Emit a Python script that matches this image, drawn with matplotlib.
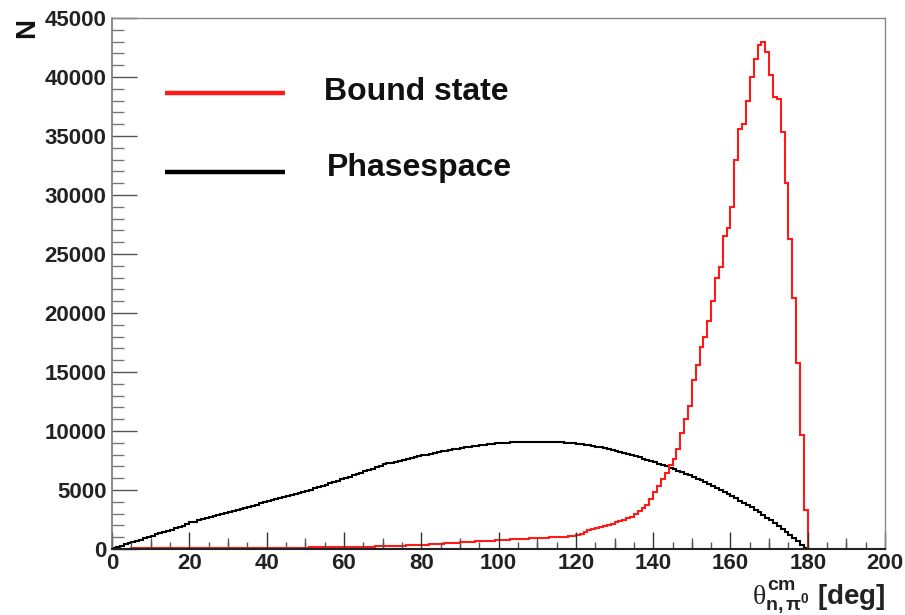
import numpy as np
import matplotlib
matplotlib.use("Agg")
import matplotlib.pyplot as plt
from matplotlib.ticker import MultipleLocator

plt.rcParams['font.family'] = ['Liberation Sans', 'DejaVu Sans']
plt.rcParams['mathtext.fontset'] = 'custom'
plt.rcParams['mathtext.rm'] = 'Liberation Sans:bold'
plt.rcParams['mathtext.bf'] = 'Liberation Sans:bold'
plt.rcParams['mathtext.it'] = 'Liberation Serif'

# bin edges: 1-degree bins from 0 to 180
bin_edges = np.arange(0, 181, 1)

bound_state = [
    30, 30, 40, 40, 40, 50, 50, 50, 50, 50,
    50, 50, 60, 60, 60, 60, 60, 60, 60, 70,
    70, 70, 70, 70, 70, 80, 80, 80, 80, 80,
    80, 80, 90, 90, 90, 90, 90, 90, 100, 100,
    100, 100, 100, 110, 110, 110, 110, 120, 120, 120,
    120, 130, 130, 130, 140, 140, 150, 150, 160, 160,
    170, 170, 180, 180, 190, 190, 200, 210, 220, 230,
    240, 250, 260, 270, 280, 290, 300, 310, 320, 340,
    350, 370, 390, 410, 430, 450, 470, 490, 510, 540,
    560, 580, 610, 630, 650, 670, 690, 700, 720, 740,
    760, 780, 790, 820, 840, 850, 870, 890, 910, 930,
    940, 950, 970, 980, 990, 1000, 1020, 1050, 1080, 1120,
    1200, 1300, 1450, 1600, 1720, 1800, 1850, 1950, 2050, 2150,
    2250, 2350, 2500, 2650, 2750, 2950, 3200, 3450, 3700, 4200,
    4800, 5300, 5900, 6450, 7100, 7600, 8500, 9800, 11000, 12100,
    14300, 15600, 17100, 18000, 19300, 21000, 23000, 23900, 26500, 27200,
    29000, 33000, 35600, 36000, 38000, 40000, 41500, 42700, 43000, 42100,
    40200, 38300, 38100, 35300, 31000, 26300, 21300, 15800, 9700, 3300,
]

phasespace = [
    50, 170, 280, 390, 480, 590, 700, 790, 900, 1010,
    1120, 1230, 1330, 1440, 1560, 1650, 1760, 1870, 1980, 2090,
    2250, 2330, 2420, 2510, 2640, 2700, 2810, 2890, 2980, 3070,
    3150, 3260, 3330, 3420, 3510, 3590, 3680, 3770, 3860, 3960,
    4030, 4120, 4210, 4290, 4400, 4470, 4560, 4640, 4730, 4820,
    4920, 5020, 5130, 5230, 5350, 5460, 5570, 5680, 5790, 5900,
    6000, 6110, 6230, 6340, 6460, 6580, 6700, 6820, 6930, 7050,
    7180, 7330, 7280, 7400, 7480, 7560, 7640, 7700, 7790, 7860,
    7930, 8000, 8060, 8130, 8200, 8270, 8310, 8380, 8440, 8500,
    8560, 8620, 8670, 8720, 8760, 8800, 8840, 8880, 8920, 8950,
    8980, 9000, 9020, 9040, 9050, 9070, 9080, 9090, 9100, 9080,
    9100, 9070, 9090, 9060, 9050, 9040, 9030, 9010, 8990, 8960,
    8930, 8890, 8850, 8800, 8740, 8680, 8620, 8540, 8470, 8390,
    8300, 8220, 8130, 8040, 7960, 7860, 7760, 7660, 7560, 7450,
    7340, 7230, 7110, 7000, 6880, 6760, 6640, 6510, 6380, 6250,
    6100, 5960, 5820, 5670, 5510, 5350, 5180, 5010, 4840, 4660,
    4480, 4300, 4110, 3920, 3720, 3520, 3310, 3100, 2880, 2660,
    2430, 2200, 1960, 1720, 1460, 1200, 930, 650, 370, 100,
]

legend_labels = ["Bound state", "Phasespace"]
x_ticks = [0, 20, 40, 60, 80, 100, 120, 140, 160, 180, 200]
y_ticks = [0, 5000, 10000, 15000, 20000, 25000, 30000, 35000, 40000, 45000]

fig = plt.figure(figsize=(9.05, 6.15), dpi=100)
ax = fig.add_axes([0.1238, 0.1073, 0.978 - 0.1238, 0.9707 - 0.1073])

ax.stairs(phasespace, bin_edges, color='black', lw=1.5)
ax.stairs(bound_state, bin_edges, color='#ff1a1a', lw=1.5)

ax.set_xlim(0, 200)
ax.set_ylim(0, 45000)
ax.set_xticks(x_ticks)
ax.set_yticks(y_ticks)
ax.xaxis.set_minor_locator(MultipleLocator(5))
ax.yaxis.set_minor_locator(MultipleLocator(1000))
ax.tick_params(axis='x', which='major', direction='in', length=12, width=1.0,
               color='#333333', labelsize=16, pad=3)
ax.tick_params(axis='x', which='minor', direction='in', length=5, width=1.0, color='#555555')
ax.tick_params(axis='y', which='major', direction='in', length=18, width=1.0,
               color='#555555', labelsize=16, pad=4)
ax.tick_params(axis='y', which='minor', direction='in', length=8.5, width=1.0, color='#777777')
for lab in ax.get_xticklabels() + ax.get_yticklabels():
    lab.set_fontweight('bold')
    lab.set_color('#222222')

# medium ticks at odd tens
sec = ax.secondary_xaxis('bottom')
sec.set_xticks([10, 30, 50, 70, 90, 110, 130, 150, 170, 190])
sec.tick_params(direction='in', length=8, width=1.0, color='#555555', labelbottom=False)
sec.spines['bottom'].set_visible(False)

for s in ['top', 'right']:
    ax.spines[s].set_color('#888888')
    ax.spines[s].set_linewidth(1.0)
ax.spines['left'].set_color('#777777')
ax.spines['bottom'].set_color('#222222')
ax.spines['left'].set_linewidth(1.2)
ax.spines['bottom'].set_linewidth(1.5)

# legend (manual ROOT-style)
colors = ['#ff1a1a', 'black']
leg_y = [0.859, 0.710]
for lbl, c, yy in zip(legend_labels, colors, leg_y):
    ax.plot([0.068, 0.2235], [yy, yy], transform=ax.transAxes, color=c, lw=3.2,
            solid_capstyle='butt')
ax.text(0.274, 0.860, legend_labels[0], transform=ax.transAxes, fontsize=23,
        fontweight='bold', va='center', ha='left', color='#111111')
ax.text(0.278, 0.718, legend_labels[1], transform=ax.transAxes, fontsize=23,
        fontweight='bold', va='center', ha='left', color='#111111')

# axis titles
fig.text(0.978, 0.017, r'$\theta^{\mathrm{cm}}_{\mathrm{n,\pi^{0}}}$ [deg]',
         ha='right', va='baseline', fontsize=20, fontweight='bold', color='#222222')
fig.text(0.03, 0.955, 'N', rotation=90, ha='center', va='center', fontsize=20,
         fontweight='bold', color='#111111')

fig.savefig('out.png', dpi=100)
